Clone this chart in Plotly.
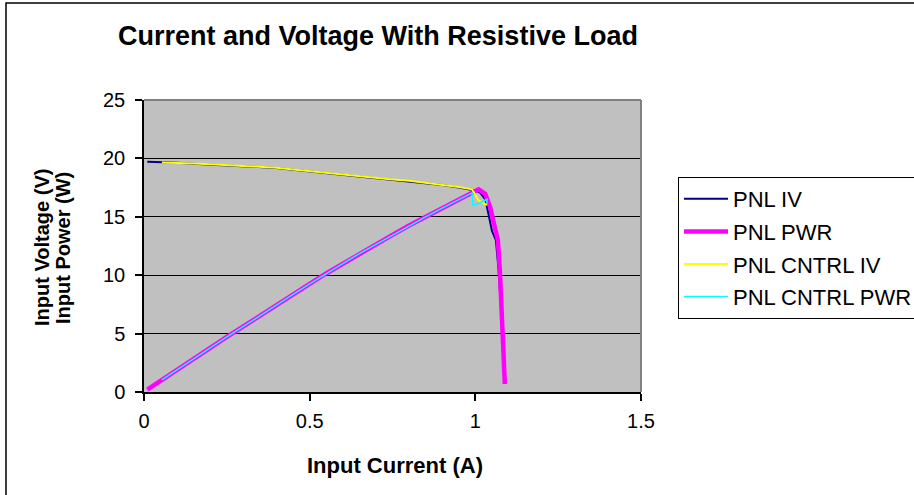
import plotly.graph_objects as go

# PNL IV (current A, voltage V)
iv_i = [0.01, 0.05, 0.1, 0.15, 0.2, 0.25, 0.3, 0.35, 0.4, 0.45, 0.5, 0.55, 0.6, 0.65, 0.7, 0.75,
        0.8, 0.85, 0.9, 0.95, 0.98, 1.0, 1.015, 1.03, 1.04, 1.05, 1.062, 1.07, 1.078, 1.083, 1.088]
iv_v = [19.72, 19.7, 19.62, 19.55, 19.48, 19.42, 19.35, 19.27, 19.18, 19.02, 18.88, 18.75, 18.6, 18.45,
        18.3, 18.18, 18.05, 17.9, 17.72, 17.5, 17.35, 17.25, 17.05, 16.5, 15.2, 13.8, 13.0, 10.5, 7.0, 3.0, 0.7]

# PNL PWR (current A, power W)
pwr_i = [0.01, 0.05, 0.1, 0.15, 0.2, 0.25, 0.3, 0.35, 0.4, 0.45, 0.5, 0.55, 0.6, 0.65, 0.7, 0.75,
         0.8, 0.85, 0.9, 0.95, 0.98, 1.0, 1.01, 1.03, 1.045, 1.058, 1.068, 1.074, 1.08, 1.084, 1.089]
pwr_p = [0.2, 0.97, 1.92, 2.86, 3.8, 4.72, 5.62, 6.55, 7.45, 8.35, 9.25, 10.15, 11.0, 11.85, 12.65, 13.45,
         14.25, 15.0, 15.75, 16.45, 16.9, 17.15, 17.35, 16.95, 15.8, 14.2, 13.0, 10.4, 7.0, 3.0, 0.7]

# PNL CNTRL IV
civ_i = [0.054, 0.1, 0.15, 0.2, 0.25, 0.3, 0.35, 0.4, 0.45, 0.5, 0.55, 0.6, 0.65, 0.7, 0.75, 0.8,
         0.85, 0.9, 0.95, 0.99, 1.01, 1.035]
civ_v = [19.65, 19.63, 19.56, 19.5, 19.43, 19.35, 19.28, 19.2, 19.05, 18.9, 18.78, 18.62, 18.48, 18.33,
         18.2, 18.08, 17.92, 17.75, 17.55, 17.35, 16.4, 16.0]

# PNL CNTRL PWR
cpw_i = [0.054, 0.1, 0.15, 0.2, 0.25, 0.3, 0.35, 0.4, 0.45, 0.5, 0.55, 0.6, 0.65, 0.7, 0.75, 0.8,
         0.85, 0.9, 0.95, 0.99, 0.993, 1.015, 1.035, 1.035]
cpw_p = [1.04, 1.92, 2.86, 3.8, 4.72, 5.62, 6.55, 7.45, 8.35, 9.25, 10.15, 11.0, 11.85, 12.65, 13.45, 14.25,
         15.0, 15.75, 16.45, 17.05, 16.0, 16.2, 16.5, 16.1]

x_ticks = [0, 0.5, 1, 1.5]
y_ticks = [0, 5, 10, 15, 20, 25]

FONT = "Arial, Liberation Sans, sans-serif"

fig = go.Figure()
fig.add_trace(go.Scatter(x=iv_i, y=iv_v, mode="lines", name="PNL IV", legendgroup="a",
                         line=dict(color="#000080", width=2)))
fig.add_trace(go.Scatter(x=pwr_i, y=pwr_p, mode="lines", name="PNL PWR", legendgroup="b",
                         line=dict(color="#FF00FF", width=4.5)))
fig.add_trace(go.Scatter(x=civ_i, y=civ_v, mode="lines", name="PNL CNTRL IV", legendgroup="c",
                         line=dict(color="#FFFF00", width=2)))
fig.add_trace(go.Scatter(x=cpw_i, y=cpw_p, mode="lines", name="PNL CNTRL PWR", legendgroup="d",
                         line=dict(color="#00FFFF", width=1.5)))

W, H = 914, 495
L, R, T, B = 144, 273, 100, 103
pw, ph = W - L - R, H - T - B

def px(x):
    return (x - L) / pw

def py(y):
    return (H - B - y) / ph

fig.update_layout(
    width=W, height=H,
    margin=dict(l=L, r=R, t=T, b=B, autoexpand=False),
    paper_bgcolor="white",
    plot_bgcolor="#C0C0C0",
    font=dict(family=FONT, color="black", size=20),
    title=dict(text="<b>Current and Voltage With Resistive Load</b>",
               x=px(378), xref="paper", xanchor="center",
               y=1 - 36 / H, yref="container", yanchor="middle",
               font=dict(size=27, family=FONT, color="black")),
    xaxis=dict(range=[0, 1.5], tickvals=x_ticks, ticktext=[str(v) for v in x_ticks],
               showgrid=False, zeroline=False, showline=True, linecolor="black", linewidth=1.5,
               ticks="outside", ticklen=7, tickcolor="black", tickwidth=1.5,
               ticklabelstandoff=3, tickfont=dict(size=20), fixedrange=True),
    yaxis=dict(range=[0, 25], tickvals=y_ticks, ticktext=[str(v) for v in y_ticks],
               showgrid=True, gridcolor="black", gridwidth=1, zeroline=False,
               showline=True, linecolor="black", linewidth=1.5,
               ticks="outside", ticklen=7, tickcolor="black", tickwidth=1.5,
               ticklabelstandoff=6, tickfont=dict(size=20), fixedrange=True),
    legend=dict(x=px(678), y=py(177), xanchor="left", yanchor="top",
                bgcolor="white", bordercolor="black", borderwidth=1,
                font=dict(size=22, family=FONT, color="black"),
                tracegroupgap=1, itemwidth=44),
    showlegend=True,
)

# Axis titles
fig.add_annotation(text="<b>Input Current (A)</b>", xref="paper", yref="paper",
                   x=px(395), y=py(465), xanchor="center", yanchor="middle", showarrow=False,
                   font=dict(size=22, family=FONT, color="black"))
fig.add_annotation(text="<b>Input Voltage (V)</b>", xref="paper", yref="paper",
                   x=px(42), y=py(248), xanchor="center", yanchor="middle", showarrow=False,
                   textangle=-90, font=dict(size=20, family=FONT, color="black"))
fig.add_annotation(text="<b>Input Power (W)</b>", xref="paper", yref="paper",
                   x=px(63), y=py(248), xanchor="center", yanchor="middle", showarrow=False,
                   textangle=-90, font=dict(size=20, family=FONT, color="black"))

# Plot area border (top / right) and outer chart border
fig.add_shape(type="line", xref="paper", yref="paper", x0=0, x1=1, y0=1, y1=1,
              line=dict(color="#808080", width=2))
fig.add_shape(type="line", xref="paper", yref="paper", x0=1, x1=1, y0=0, y1=1,
              line=dict(color="#808080", width=2))
fig.add_shape(type="rect", xref="paper", yref="paper",
              x0=px(6), x1=px(1000), y0=py(600), y1=py(3),
              line=dict(color="black", width=1.5), fillcolor="rgba(0,0,0,0)")

fig.write_html("out.html", config={"displayModeBar": False},
               post_script="document.body.style.margin='0';")
